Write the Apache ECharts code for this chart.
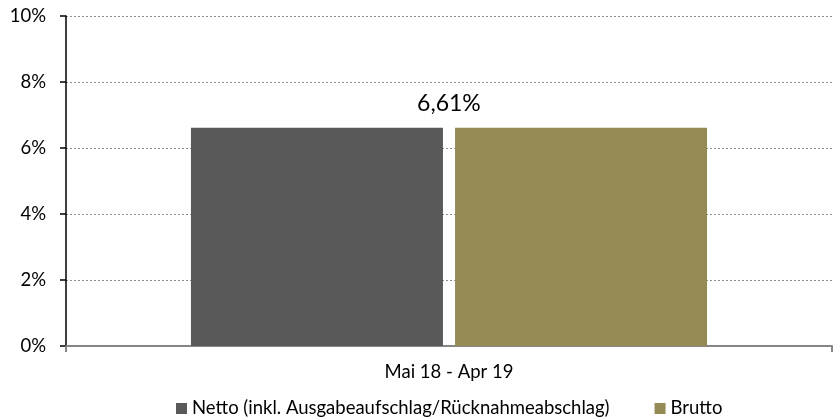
<!DOCTYPE html>
<html>
<head>
<meta charset="utf-8">
<script src="https://cdn.jsdelivr.net/npm/echarts@6/dist/echarts.min.js"></script>
<style>
  html, body { margin: 0; padding: 0; background: #fff; }
  #chart { width: 838px; height: 418px; }
</style>
</head>
<body>
<div id="chart"></div>
<script>
const categories = ['Mai 18 - Apr 19'];
const nettoValues = [6.61];
const bruttoValues = [6.61];
const seriesNames = ['Netto (inkl. Ausgabeaufschlag/Rücknahmeabschlag)', 'Brutto'];

const FONT = 'Lato, "Open Sans", sans-serif';

const chart = echarts.init(document.getElementById('chart'));

const fmt = (v) => v.toFixed(2).replace('.', ',') + '%';

chart.setOption({
  animation: false,
  textStyle: { fontFamily: FONT },
  grid: { left: 66, right: 6, top: 16, bottom: 72 },
  legend: {
    top: 399,
    left: 176,
    padding: 0,
    itemWidth: 11,
    itemHeight: 11,
    itemGap: 45,
    icon: 'rect',
    textStyle: { fontSize: 18.5, color: '#000', fontFamily: FONT },
    data: seriesNames
  },
  xAxis: {
    type: 'category',
    data: categories,
    axisLine: { lineStyle: { color: '#868686', width: 2 } },
    axisTick: { show: true, length: 6, lineStyle: { color: '#868686', width: 2 } },
    axisLabel: { color: '#000', fontSize: 18.5, margin: 17, fontFamily: FONT }
  },
  yAxis: {
    type: 'value',
    min: 0,
    max: 10,
    interval: 2,
    axisLine: { show: true, lineStyle: { color: '#000', width: 1.5 } },
    axisTick: { show: true, length: 6, lineStyle: { color: '#000', width: 1.5 } },
    axisLabel: { color: '#000', fontSize: 18.5, margin: 20, formatter: (v) => v + '%', fontFamily: FONT },
    splitLine: { show: true, lineStyle: { color: '#8c8c8c', type: [2, 2], width: 1 } }
  },
  series: [
    {
      name: seriesNames[0],
      type: 'bar',
      data: nettoValues,
      barWidth: 252,
      barGap: '4.8%',
      itemStyle: { color: '#595959' },
      label: {
        show: true,
        position: 'top',
        distance: 13,
        offset: [132, 0],
        fontSize: 23,
        color: '#000',
        fontFamily: FONT,
        formatter: (p) => fmt(p.value)
      }
    },
    {
      name: seriesNames[1],
      type: 'bar',
      data: bruttoValues,
      barWidth: 252,
      itemStyle: { color: '#948a54' }
    }
  ]
});
</script>
</body>
</html>
